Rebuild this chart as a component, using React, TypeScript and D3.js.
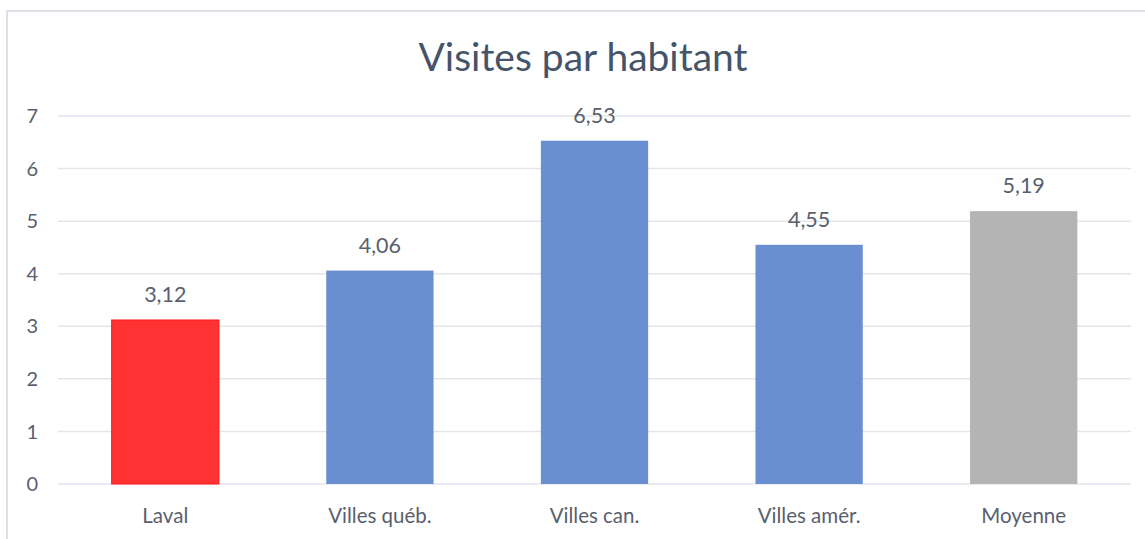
import React from "react";
import * as d3 from "d3";

const categories = ["Laval", "Villes québ.", "Villes can.", "Villes amér.", "Moyenne"];
const values = [3.12, 4.06, 6.53, 4.55, 5.19];
const barColors = ["#FF3333", "#6A8FD0", "#6A8FD0", "#6A8FD0", "#B4B4B4"];
const yTicks = [0, 1, 2, 3, 4, 5, 6, 7];
const title = "Visites par habitant";

const W = 1145;
const H = 539;
const FONT = "Lato, 'Open Sans', sans-serif";

export default function App() {
  const x = d3.scaleBand<string>().domain(categories).range([58, 1131]).paddingInner(0.5).paddingOuter(0.25);
  const y = d3.scaleLinear().domain([0, 7]).range([484, 116]);
  const fmt = (v: number) => v.toFixed(2).replace(".", ",");
  return (
    <svg width={W} height={H} style={{ position: "absolute", left: 0, top: 0, background: "#fff" }}>
      <rect x={0} y={0} width={W} height={H} fill="#fff" />
      <line x1={7} x2={7} y1={10} y2={H} stroke="#DCE0E8" strokeWidth={2} />
      <line x1={6} x2={W} y1={11} y2={11} stroke="#DCE0E8" strokeWidth={2} />
      <text x={583} y={71} textAnchor="middle" fontFamily={FONT} fontSize={39} fill="#44546A">{title}</text>
      {yTicks.map((t) => (
        <g key={t}>
          <line x1={58} x2={1131} y1={y(t)} y2={y(t)} stroke="#E1E5EC" strokeWidth={1.5} />
          <text x={38} y={y(t)} dy="0.36em" textAnchor="end" fontFamily={FONT} fontSize={20} fill="#595F6E">{t}</text>
        </g>
      ))}
      {categories.map((c, i) => (
        <g key={c}>
          <rect x={x(c)} y={y(values[i])} width={x.bandwidth()} height={y(0) - y(values[i])} fill={barColors[i]}
            stroke={i === 0 ? "#FF1A1A" : "none"} strokeWidth={1} />
          <text x={(x(c) as number) + x.bandwidth() / 2} y={y(values[i]) - 18} textAnchor="middle" fontFamily={FONT} fontSize={21.5} fill="#595F6E">{fmt(values[i])}</text>
          <text x={(x(c) as number) + x.bandwidth() / 2} y={523} textAnchor="middle" fontFamily={FONT} fontSize={20.5} fill="#595F6E">{c}</text>
        </g>
      ))}
    </svg>
  );
}
